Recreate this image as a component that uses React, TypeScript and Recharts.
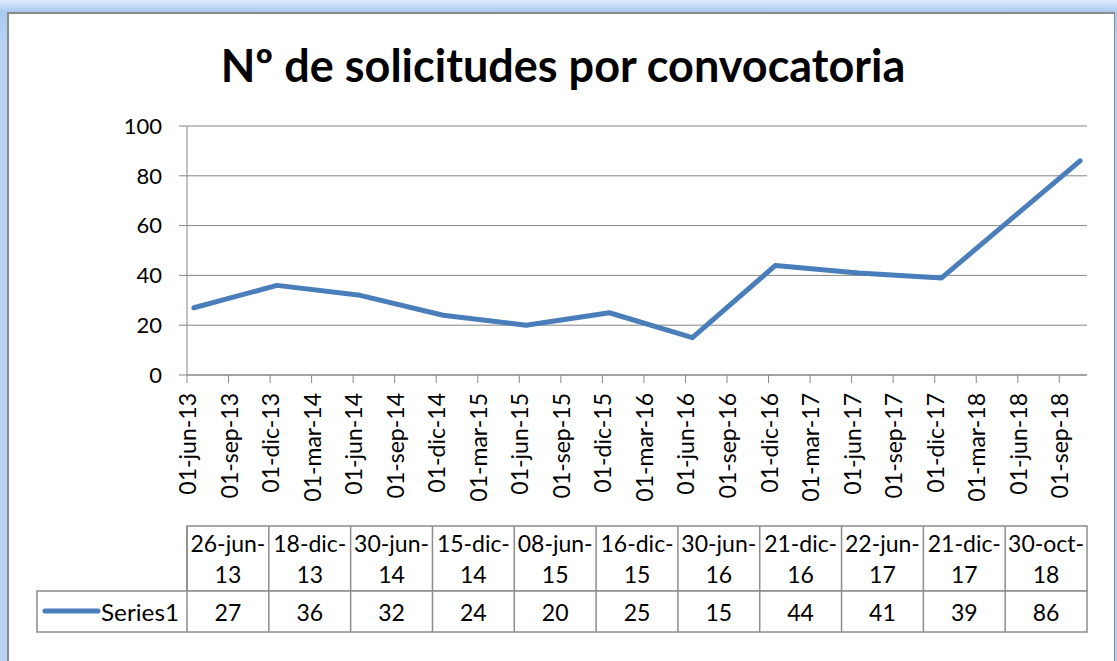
import React from "react";
import { LineChart, Line, XAxis, YAxis, CartesianGrid, Customized } from "recharts";

const categories = ["26-jun-13", "18-dic-13", "30-jun-14", "15-dic-14", "08-jun-15", "16-dic-15", "30-jun-16", "21-dic-16", "22-jun-17", "21-dic-17", "30-oct-18"];
const seriesName = "Series1";
const values = [27, 36, 32, 24, 20, 25, 15, 44, 41, 39, 86];
const xTickLabels = [
  "01-jun-13", "01-sep-13", "01-dic-13", "01-mar-14", "01-jun-14", "01-sep-14", "01-dic-14", "01-mar-15",
  "01-jun-15", "01-sep-15", "01-dic-15", "01-mar-16", "01-jun-16", "01-sep-16", "01-dic-16", "01-mar-17",
  "01-jun-17", "01-sep-17", "01-dic-17", "01-mar-18", "01-jun-18", "01-sep-18",
];
const yTicks = [0, 20, 40, 60, 80, 100];
const title = "Nº de solicitudes por convocatoria";

const MONTHS = ["ene", "feb", "mar", "abr", "may", "jun", "jul", "ago", "sep", "oct", "nov", "dic"];
const BASE_YEAR = 2013;
const BASE_MONTH = 5; // jun
const monthIndex = (s: string) => {
  const [, m, y] = s.split("-");
  return (2000 + Number(y) - BASE_YEAR) * 12 + MONTHS.indexOf(m) - BASE_MONTH;
};
const xTicks = xTickLabels.map(monthIndex);
const data = categories.map((c, i) => ({ x: monthIndex(c) + 0.5, value: values[i], label: c }));
const xMax = monthIndex(categories[categories.length - 1]) + 1;

const W = 1117;
const H = 661;
const FONT = "Lato, 'Noto Sans', sans-serif";
const BLUE = "#4a7ebb";
const GRID = "#868686";
const M = { top: 126, right: 30, bottom: 156, left: 0 };
const Y_AXIS_W = 187;
const X_AXIS_H = 130;
const PLOT_L = M.left + Y_AXIS_W;
const PLOT_R = W - M.right;
const TABLE_FS = 23;

const XTick = (props: any) => {
  const { x, y, payload } = props;
  const idx = xTicks.indexOf(payload.value);
  return (
    <text
      x={x}
      y={y}
      transform={`rotate(-90, ${x}, ${y})`}
      textAnchor="end"
      dominantBaseline="central"
      fontSize={23}
      fontFamily={FONT}
      fill="#000"
    >
      {xTickLabels[idx]}
    </text>
  );
};

const Title = () => (
  <text x={563} y={82} textAnchor="middle" fontSize={45} fontWeight={700} fontFamily={FONT} fill="#000">
    {title}
  </text>
);

const DataTable = () => {
  const top = 526;
  const mid = 591;
  const bottom = 632;
  const legendL = 37;
  const colW = (PLOT_R - PLOT_L) / categories.length;
  const stroke = "#8c8c8c";
  return (
    <g>
      <rect x={PLOT_L} y={top} width={PLOT_R - PLOT_L} height={mid - top} fill="#fff" stroke={stroke} strokeWidth={1.5} />
      <rect x={legendL} y={mid} width={PLOT_R - legendL} height={bottom - mid} fill="#fff" stroke={stroke} strokeWidth={1.5} />
      {categories.map((c, i) => {
        const x0 = PLOT_L + i * colW;
        const cut = c.lastIndexOf("-") + 1;
        return (
          <g key={c}>
            {i > 0 && <line x1={x0} x2={x0} y1={top} y2={bottom} stroke={stroke} strokeWidth={1.5} />}
            <text x={x0 + colW / 2} y={543} textAnchor="middle" dominantBaseline="central" fontSize={TABLE_FS} fontFamily={FONT} fill="#000">
              {c.slice(0, cut)}
            </text>
            <text x={x0 + colW / 2} y={574} textAnchor="middle" dominantBaseline="central" fontSize={TABLE_FS} fontFamily={FONT} fill="#000">
              {c.slice(cut)}
            </text>
            <text x={x0 + colW / 2} y={612} textAnchor="middle" dominantBaseline="central" fontSize={TABLE_FS} fontFamily={FONT} fill="#000">
              {values[i]}
            </text>
          </g>
        );
      })}
      <line x1={PLOT_L} x2={PLOT_L} y1={top} y2={bottom} stroke={stroke} strokeWidth={1.5} />
      <line x1={45} x2={98} y1={611} y2={611} stroke={BLUE} strokeWidth={5} strokeLinecap="round" />
      <text x={101} y={612} dominantBaseline="central" fontSize={TABLE_FS} fontFamily={FONT} fill="#000" textLength={78} lengthAdjust="spacingAndGlyphs">
        {seriesName}
      </text>
    </g>
  );
};

export default function App() {
  return (
    <div style={{ position: "absolute", left: 0, top: 0, width: W, height: H, overflow: "hidden", background: "linear-gradient(to bottom, #dfeafa 0px, #a9c9ef 12px, #b7d2f3 40px)" }}>
      <div
        style={{
          position: "absolute",
          left: 7,
          top: 12,
          width: 1115 - 7,
          height: H,
          background: "#fff",
          borderTop: "2px solid #8a8a8a",
          borderLeft: "2px solid #8a8a8a",
          borderRight: "1px solid #8a8a8a",
          boxSizing: "border-box",
        }}
      />
      <div style={{ position: "absolute", left: 0, top: 0 }}>
        <LineChart width={W} height={H} data={data} margin={M}>
          <CartesianGrid horizontal vertical={false} stroke={GRID} strokeWidth={1} />
          <XAxis
            dataKey="x"
            type="number"
            domain={[0, xMax]}
            ticks={xTicks}
            interval={0}
            height={X_AXIS_H}
            tickSize={8}
            tickMargin={10}
            stroke={GRID}
            tickLine={{ stroke: GRID }}
            axisLine={{ stroke: GRID }}
            tick={<XTick />}
            allowDataOverflow
          />
          <YAxis
            type="number"
            domain={[0, 100]}
            ticks={yTicks}
            width={Y_AXIS_W}
            tickSize={8}
            tickMargin={17}
            stroke={GRID}
            tickLine={{ stroke: GRID }}
            axisLine={{ stroke: GRID }}
            tick={{ fontSize: 22, fill: "#000", fontFamily: FONT }}
          />
          <Line
            type="linear"
            dataKey="value"
            stroke={BLUE}
            strokeWidth={5}
            strokeLinecap="round"
            strokeLinejoin="round"
            dot={false}
            activeDot={false}
            isAnimationActive={false}
          />
          <Customized component={Title} />
          <Customized component={DataTable} />
        </LineChart>
      </div>
    </div>
  );
}
